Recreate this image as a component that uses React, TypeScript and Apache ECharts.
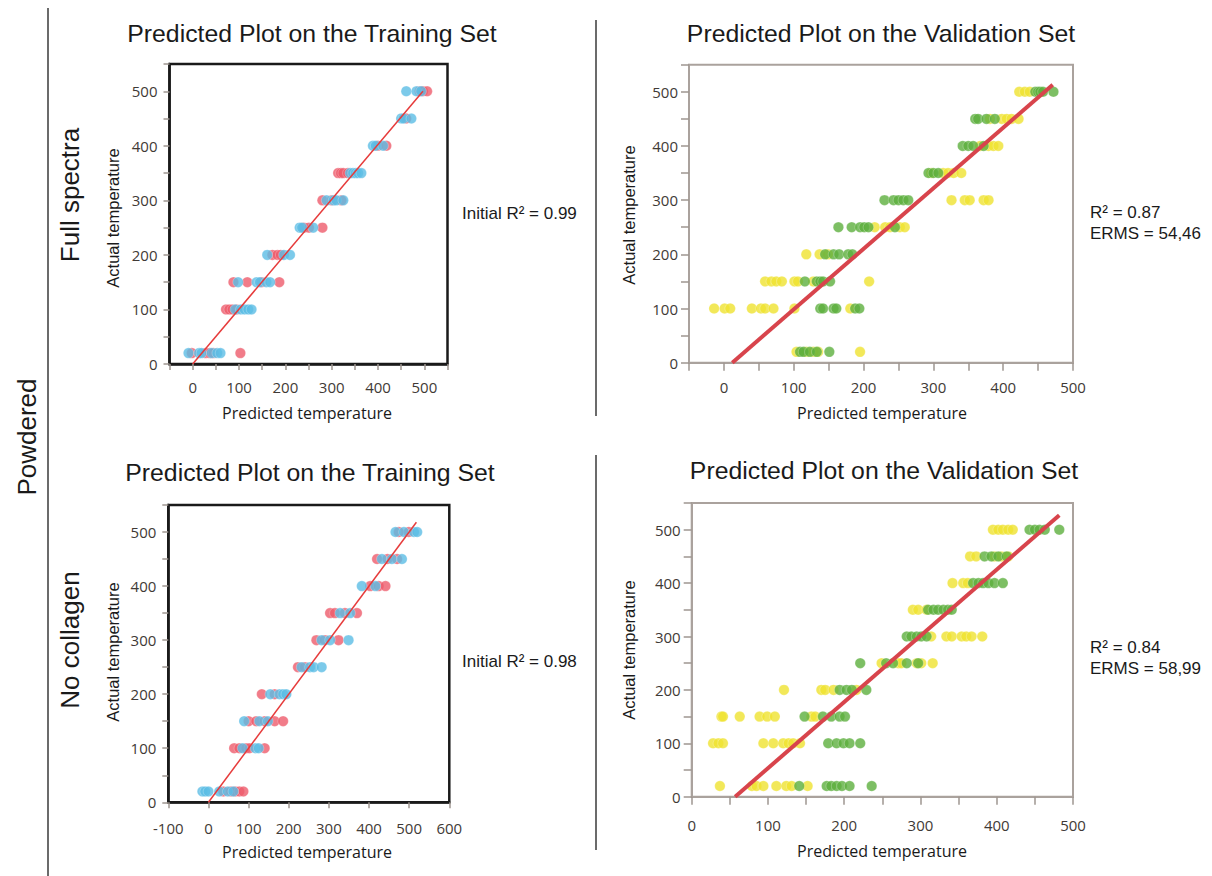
import React, { useEffect, useRef } from "react";
import * as echarts from "echarts";

// ---- data: [predicted, actual] ----
const trainFullRed = [[-2,20],[28,20],[37,20],[45,20],[103,20],[72,100],[79,100],[86,100],[95,100],[88,150],[118,150],[149,150],[187,150],[172,200],[183,200],[190,200],[240,250],[251,250],[280,250],[280,300],[300,300],[321,300],[314,350],[320,350],[325,350],[335,350],[400,400],[418,400],[461,450],[490,500],[497,500],[506,500]];
const trainFullBlue = [[-9,20],[14,20],[19,20],[41,20],[53,20],[60,20],[92,100],[104,100],[112,100],[120,100],[127,100],[98,150],[138,150],[145,150],[159,150],[167,150],[161,200],[197,200],[210,200],[231,250],[236,250],[260,250],[289,300],[304,300],[310,300],[325,300],[340,350],[346,350],[352,350],[357,350],[364,350],[389,400],[395,400],[411,400],[450,450],[455,450],[472,450],[461,500],[483,500],[493,500]];

const valFullYellow = [[104,20],[118,20],[128,20],[135,20],[195,20],[-14,100],[1,100],[9,100],[40,100],[53,100],[59,100],[71,100],[101,100],[181,100],[59,150],[68,150],[75,150],[83,150],[101,150],[106,150],[128,150],[208,150],[118,200],[137,200],[149,200],[216,250],[231,250],[238,250],[252,250],[259,250],[326,300],[345,300],[352,300],[372,300],[379,300],[297,350],[314,350],[321,350],[329,350],[340,350],[367,400],[379,400],[386,400],[393,400],[381,450],[398,450],[405,450],[412,450],[422,450],[423,500],[431,500],[438,500]];
const valFullGreen = [[109,20],[114,20],[123,20],[133,20],[151,20],[138,100],[142,100],[157,100],[161,100],[188,100],[194,100],[116,150],[133,150],[138,150],[142,150],[152,150],[145,200],[157,200],[165,200],[178,200],[184,200],[164,250],[183,250],[195,250],[201,250],[207,250],[245,250],[230,300],[243,300],[250,300],[257,300],[264,300],[293,350],[300,350],[307,350],[342,400],[350,400],[357,400],[372,400],[360,450],[364,450],[376,450],[388,450],[446,500],[450,500],[453,500],[457,500],[472,500]];

const trainNoRed = [[37,20],[56,20],[67,20],[77,20],[87,20],[64,100],[77,100],[94,100],[102,100],[140,100],[100,150],[119,150],[140,150],[165,150],[186,150],[133,200],[165,200],[223,250],[240,250],[269,300],[290,300],[324,300],[303,350],[315,350],[340,350],[370,350],[403,400],[424,400],[441,400],[420,450],[446,450],[470,450],[474,500],[499,500]];
const trainNoBlue = [[-15,20],[-8,20],[0,20],[27,20],[48,20],[62,20],[85,100],[117,100],[125,100],[89,150],[127,150],[148,150],[154,200],[177,200],[186,200],[194,200],[232,250],[253,250],[262,250],[282,250],[282,300],[303,300],[349,300],[328,350],[353,350],[382,400],[416,400],[432,450],[457,450],[482,450],[466,500],[487,500],[512,500],[520,500]];

const valNoYellow = [[37,20],[79,20],[85,20],[94,20],[111,20],[124,20],[131,20],[152,20],[28,100],[35,100],[41,100],[94,100],[107,100],[120,100],[127,100],[133,100],[142,100],[39,150],[41,150],[63,150],[89,150],[99,150],[109,150],[157,150],[162,150],[121,200],[170,200],[175,200],[186,200],[216,200],[249,250],[271,250],[275,250],[295,250],[301,250],[316,250],[314,300],[334,300],[341,300],[354,300],[360,300],[367,300],[381,300],[290,350],[297,350],[308,350],[342,400],[356,400],[362,400],[365,450],[373,450],[397,450],[406,450],[415,450],[395,500],[402,500],[408,500],[415,500],[421,500]];
const valNoGreen = [[141,20],[177,20],[183,20],[190,20],[197,20],[207,20],[236,20],[179,100],[190,100],[199,100],[207,100],[221,100],[148,150],[172,150],[183,150],[194,150],[201,150],[194,200],[203,200],[210,200],[229,200],[221,250],[255,250],[264,250],[282,250],[297,250],[282,300],[288,300],[295,300],[301,300],[308,300],[310,350],[317,350],[323,350],[330,350],[336,350],[341,350],[369,400],[376,400],[382,400],[389,400],[397,400],[408,400],[384,450],[393,450],[402,450],[413,450],[443,500],[450,500],[456,500],[463,500],[482,500]];

const fitTrainFull = [[0,0],[497,500]];
const fitValFull = [[12,0],[471,513]];
const fitTrainNo = [[0,0],[518,518]];
const fitValNo = [[57,0],[482,527]];

const xRanges = [[-50,550,50],[-50,500,50],[-100,600,100],[0,500,50]];
const yRange = [0, 550, 50];

const titles = ["Predicted Plot on the Training Set","Predicted Plot on the Validation Set","Predicted Plot on the Training Set","Predicted Plot on the Validation Set"];

const RED = "#EE5B6C", BLUE = "#5BBDE5", GREEN = "#5CAF3D", YELLOW = "#EFE22F";
const LBL = "#3f3a36", TICK = "#9e9691";
const SANS = "'Liberation Sans', Arial, sans-serif";
const OPEN = "'Open Sans', 'Noto Sans', sans-serif";

export default function App() {
  const ref = useRef<HTMLDivElement>(null);
  useEffect(() => {
    const chart = echarts.init(ref.current!, null, { renderer: "svg" });
    const grids = [
      { left: 169.5, top: 64, width: 278, height: 300 },
      { left: 689, top: 64.7, width: 384, height: 298 },
      { left: 168.3, top: 505, width: 281, height: 297.3 },
      { left: 691.7, top: 503, width: 381.3, height: 293.7 },
    ];
    const boxed = [true, false, true, false];
    const xMargins = [15, 17, 18, 21];
    const yMargins = [12, 11, 12, 11];
    const fmt = (v: number) => (v % 100 === 0 ? String(v) : "");
    const mkSeries = (i: number, data: number[][], color: string) => ({
      type: "scatter", xAxisIndex: i, yAxisIndex: i, data, symbolSize: 10.5,
      itemStyle: { color, borderColor: "rgba(255,255,255,0.55)", borderWidth: 0.6 },
    });
    const mkLine = (i: number, data: number[][], thick: boolean) => ({
      type: "line", xAxisIndex: i, yAxisIndex: i, data, symbol: "none",
      lineStyle: { color: thick ? "#D8444C" : "#E63B3B", width: thick ? 4 : 1.5 },
      z: 5,
    });
    const text = (t: string, x: number, y: number, size: number, family: string, opts: any = {}) => ({
      type: "text", x, y, rotation: opts.rot || 0,
      style: { text: t, fontSize: size, fontFamily: family, fill: opts.fill || "#1a1a1a",
        align: opts.align || "center", verticalAlign: "middle" },
    });
    const axisCommon = (i: number) => ({
      splitLine: { show: false },
      axisLine: { show: true, onZero: false, lineStyle: { color: boxed[i] ? "#1a1a1a" : "#aaa29d", width: boxed[i] ? 2.5 : 2 } },
      axisTick: { show: true, inside: false, length: boxed[i] ? 6 : 8, lineStyle: { color: TICK, width: 1.5 } },
    });
    const option: any = {
      animation: false,
      backgroundColor: "#ffffff",
      grid: grids.map((g, i) => ({
        ...g, show: true, backgroundColor: "transparent",
        borderColor: boxed[i] ? "#1a1a1a" : "#aaa29d", borderWidth: boxed[i] ? 2.5 : 2,
      })),
      xAxis: xRanges.map((r, i) => ({
        type: "value", gridIndex: i, min: r[0], max: r[1], interval: r[2],
        ...axisCommon(i),
        axisLabel: { margin: xMargins[i], color: LBL, fontSize: 15, fontFamily: OPEN, formatter: fmt },
      })),
      yAxis: grids.map((_, i) => ({
        type: "value", gridIndex: i, min: yRange[0], max: yRange[1], interval: yRange[2],
        ...axisCommon(i),
        axisLabel: { margin: yMargins[i], color: LBL, fontSize: 15, fontFamily: OPEN, formatter: fmt },
      })),
      series: [
        mkSeries(0, trainFullRed, RED), mkSeries(0, trainFullBlue, BLUE), mkLine(0, fitTrainFull, false),
        mkSeries(1, valFullYellow, YELLOW), mkSeries(1, valFullGreen, GREEN), mkLine(1, fitValFull, true),
        mkSeries(2, trainNoRed, RED), mkSeries(2, trainNoBlue, BLUE), mkLine(2, fitTrainNo, false),
        mkSeries(3, valNoYellow, YELLOW), mkSeries(3, valNoGreen, GREEN), mkLine(3, fitValNo, true),
      ],
      graphic: [
        { type: "line", shape: { x1: 48, y1: 8, x2: 48, y2: 876 }, style: { stroke: "#3a3a3a", lineWidth: 1.5 } },
        { type: "line", shape: { x1: 596, y1: 20, x2: 596, y2: 416 }, style: { stroke: "#3a3a3a", lineWidth: 1.5 } },
        { type: "line", shape: { x1: 596, y1: 455, x2: 596, y2: 850 }, style: { stroke: "#3a3a3a", lineWidth: 1.5 } },
        text(titles[0], 312, 33, 24.8, SANS),
        text(titles[1], 881, 33, 24.8, SANS),
        text(titles[2], 310, 472, 24.8, SANS),
        text(titles[3], 884, 470, 24.8, SANS),
        text("Predicted temperature", 307, 413, 16, OPEN),
        text("Predicted temperature", 882, 413, 16, OPEN),
        text("Predicted temperature", 307, 852, 16, OPEN),
        text("Predicted temperature", 882, 851, 16, OPEN),
        text("Actual temperature", 113, 218, 16.5, SANS, { rot: Math.PI / 2 }),
        text("Actual temperature", 629, 215, 16.5, SANS, { rot: Math.PI / 2 }),
        text("Actual temperature", 113, 652, 16.5, SANS, { rot: Math.PI / 2 }),
        text("Actual temperature", 629, 650, 16.5, SANS, { rot: Math.PI / 2 }),
        text("Full spectra", 70, 195, 26, SANS, { rot: Math.PI / 2 }),
        text("No collagen", 70, 640, 26, SANS, { rot: Math.PI / 2 }),
        text("Powdered", 27, 437, 26, SANS, { rot: Math.PI / 2 }),
        text("Initial R² = 0.99", 462, 213, 17, SANS, { align: "left" }),
        text("Initial R² = 0.98", 462, 661, 17, SANS, { align: "left" }),
        text("R² = 0.87", 1090, 212, 17, SANS, { align: "left" }),
        text("ERMS = 54,46", 1090, 233, 17, SANS, { align: "left" }),
        text("R² = 0.84", 1090, 647, 17, SANS, { align: "left" }),
        text("ERMS = 58,99", 1090, 668, 17, SANS, { align: "left" }),
      ],
    };
    chart.setOption(option);
    return () => chart.dispose();
  }, []);
  return <div ref={ref} style={{ position: "absolute", left: 0, top: 0, width: 1212, height: 876 }} />;
}
